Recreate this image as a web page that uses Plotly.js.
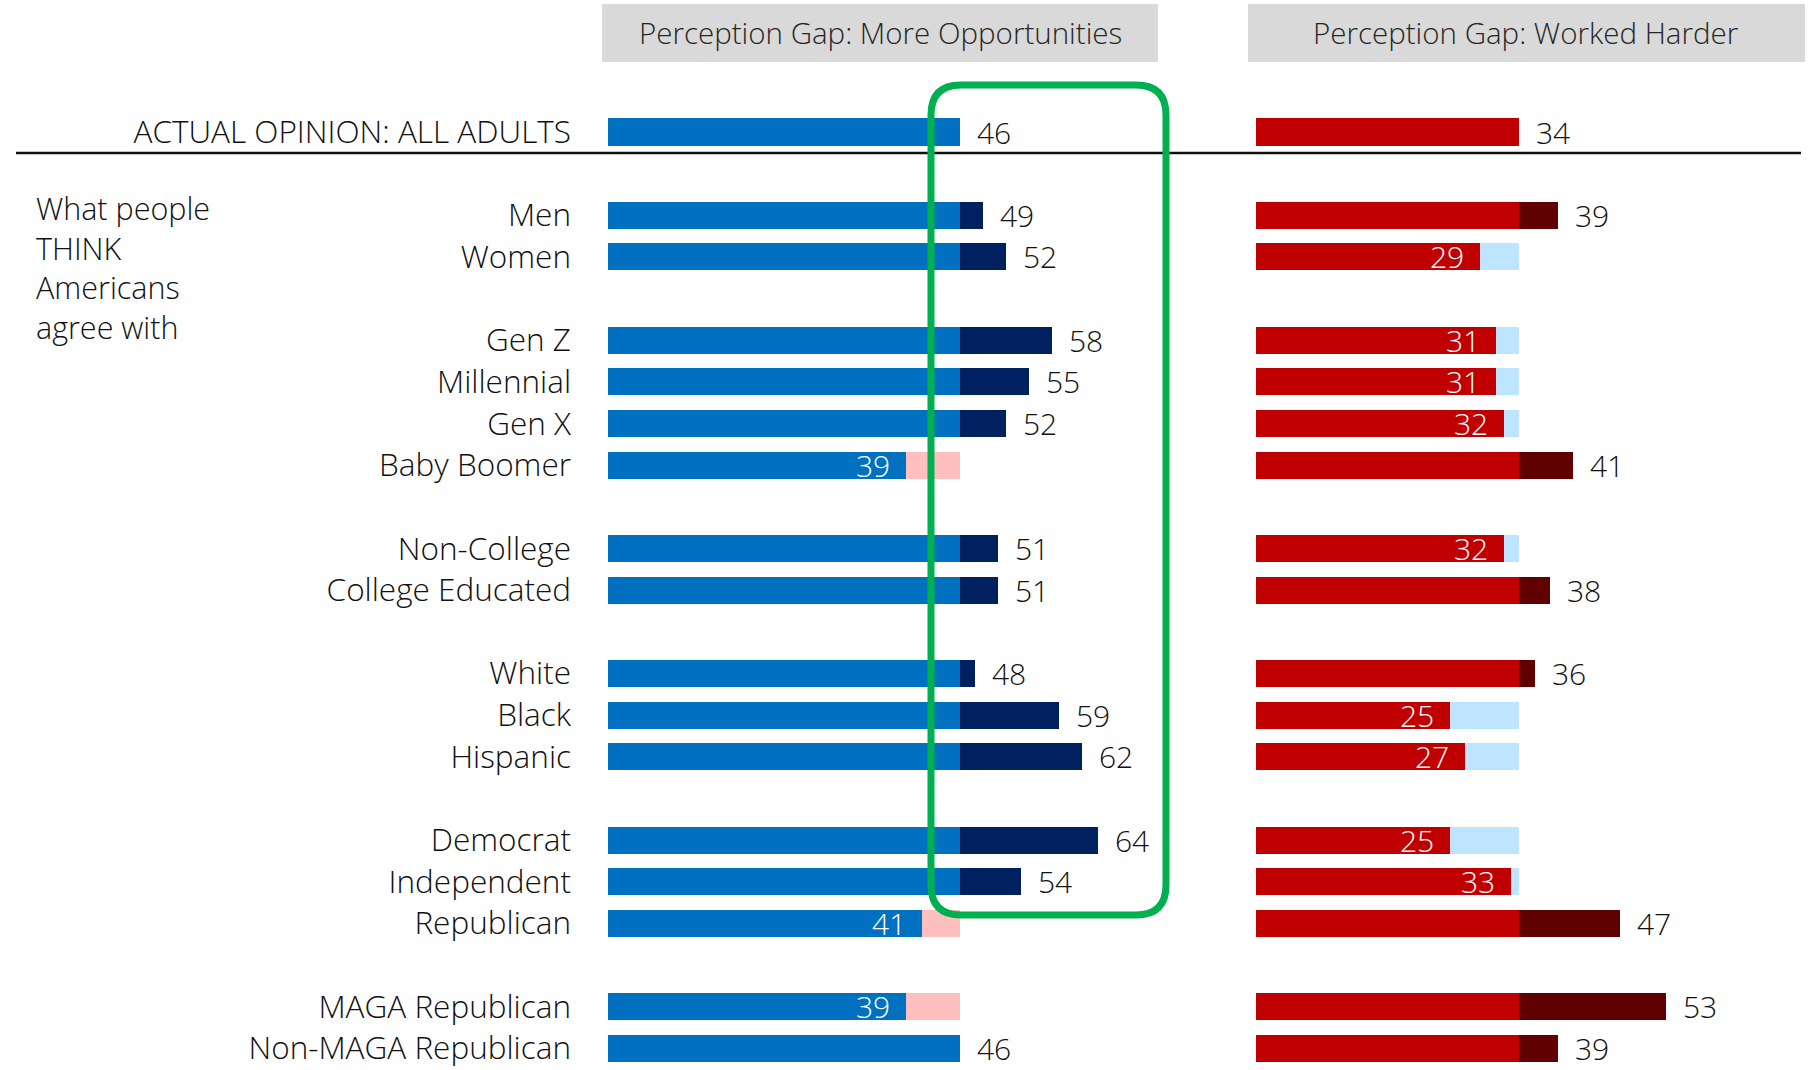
<!DOCTYPE html>
<html>
<head>
<meta charset="utf-8">
<script src="https://cdn.plot.ly/plotly-3.0.1.min.js"></script>
<style>html,body{margin:0;padding:0;background:#fff;}#chart{width:1810px;height:1070px;}</style>
</head>
<body>
<div id="chart"></div>
<script>
// ---- data ----
const actualLabel = "ACTUAL OPINION: ALL ADULTS";
const categories = ["Men","Women","Gen Z","Millennial","Gen X","Baby Boomer","Non-College","College Educated","White","Black","Hispanic","Democrat","Independent","Republican","MAGA Republican","Non-MAGA Republican"];
const groupSizes = [2,4,2,3,3,2];
const actualOpportunities = 46;
const actualHarder = 34;
const perceivedOpportunities = [49,52,58,55,52,39,51,51,48,59,62,64,54,41,39,46];
const perceivedHarder = [39,29,31,31,32,41,32,38,36,25,27,25,33,47,53,39];
const panelTitles = ["Perception Gap: More Opportunities","Perception Gap: Worked Harder"];
const sideNoteLines = ["What people","THINK","Americans","agree with"];

// ---- helpers ----
const W = 1810, H = 1070;
const px = x => x / W;
const py = y => 1 - y / H;
const FONT = "'Open Sans', Lato, sans-serif";
const WEIGHT = 300;
const TXT = "#111111";

// category order with blank spacer rows
const order = [actualLabel];
let k = 0, sp = 1;
groupSizes.forEach(n => {
  order.push(" ".repeat(sp++));
  for (let i = 0; i < n; i++) order.push(categories[k++]);
});

function panel(vals, actual, xa, colBase, colOver, colUnder) {
  const ys = [actualLabel].concat(categories);
  const vs = [actual].concat(vals);
  const base = vs.map(v => Math.min(v, actual));
  const over = vs.map(v => Math.max(v - actual, 0));
  const under = vs.map(v => Math.max(actual - v, 0));
  const common = {type: "bar", orientation: "h", y: ys, xaxis: xa, yaxis: "y", width: 0.65,
                  hoverinfo: "skip", showlegend: false};
  const traces = [
    Object.assign({}, common, {x: base, marker: {color: colBase, line: {width: 0}}}),
    Object.assign({}, common, {x: over, marker: {color: colOver, line: {width: 0}}}),
    Object.assign({}, common, {x: under, marker: {color: colUnder, line: {width: 0}}})
  ];
  const ann = vs.map((v, i) => {
    const outside = v >= actual;
    return {
      xref: xa, yref: "y", x: v, y: ys[i], text: String(v), showarrow: false,
      xanchor: outside ? "left" : "right", yanchor: "middle",
      xshift: outside ? 15 : -14, yshift: 0,
      font: {family: FONT, weight: WEIGHT, size: 30, color: outside ? TXT : "#ffffff"}
    };
  });
  return {traces, ann};
}

const L = panel(perceivedOpportunities, actualOpportunities, "x", "#0070C0", "#002060", "#FFBFBF");
const R = panel(perceivedHarder, actualHarder, "x2", "#C00000", "#600000", "#BFE4FF");

// green rounded rectangle
const gL = 931, gR = 1166, gT = 85, gB = 915, r = 30;
const P = (x, y) => px(x).toFixed(5) + "," + py(y).toFixed(5);
const greenPath = "M" + P(gL, gT + r) + " Q" + P(gL, gT) + " " + P(gL + r, gT) +
  " L" + P(gR - r, gT) + " Q" + P(gR, gT) + " " + P(gR, gT + r) +
  " L" + P(gR, gB - r) + " Q" + P(gR, gB) + " " + P(gR - r, gB) +
  " L" + P(gL + r, gB) + " Q" + P(gL, gB) + " " + P(gL, gB - r) + " Z";

const shapes = [
  {type: "rect", xref: "paper", yref: "paper", x0: px(602), x1: px(1158), y0: py(62), y1: py(4),
   fillcolor: "#D9D9D9", line: {width: 0}, layer: "below"},
  {type: "rect", xref: "paper", yref: "paper", x0: px(1248), x1: px(1805), y0: py(62), y1: py(4),
   fillcolor: "#D9D9D9", line: {width: 0}, layer: "below"},
  {type: "line", xref: "paper", yref: "paper", x0: px(16), x1: px(1801), y0: py(153), y1: py(153),
   line: {color: "#111111", width: 2.5}, layer: "above"},
  {type: "path", xref: "paper", yref: "paper", path: greenPath,
   line: {color: "#00B050", width: 7}, fillcolor: "rgba(0,0,0,0)", layer: "above"}
];

const headerAnn = [
  {xref: "paper", yref: "paper", x: px(880), y: py(32), text: panelTitles[0], showarrow: false,
   xanchor: "center", yanchor: "middle", font: {family: FONT, weight: WEIGHT, size: 29.5, color: "#262626"}},
  {xref: "paper", yref: "paper", x: px(1526), y: py(32), text: panelTitles[1], showarrow: false,
   xanchor: "center", yanchor: "middle", font: {family: FONT, weight: WEIGHT, size: 29.5, color: "#262626"}},
  {xref: "paper", yref: "paper", x: px(34), y: py(267), text: sideNoteLines.join("<br>"), showarrow: false,
   xanchor: "left", yanchor: "middle", align: "left",
   font: {family: FONT, weight: WEIGHT, size: 30.5, color: TXT}}
];

const row0 = 132, slot = 41.65;
const layout = {
  width: W, height: H,
  margin: {l: 0, r: 0, t: 0, b: 0, pad: 0},
  paper_bgcolor: "#ffffff", plot_bgcolor: "rgba(0,0,0,0)",
  barmode: "stack", bargap: 0,
  showlegend: false,
  font: {family: FONT, weight: WEIGHT, color: TXT},
  xaxis: {domain: [px(608), px(1200)], range: [0, 592 / 7.65], visible: false, fixedrange: true},
  xaxis2: {domain: [px(1256), 1], range: [0, 554 / 7.74], visible: false, anchor: "y", fixedrange: true},
  yaxis: {type: "category", categoryorder: "array", categoryarray: order,
          range: [(H - row0) / slot, -row0 / slot], domain: [0, 1], anchor: "x",
          showgrid: false, zeroline: false, showline: false, ticks: "",
          ticklabelstandoff: 36, tickfont: {family: FONT, weight: WEIGHT, size: 31.5, color: TXT}, fixedrange: true},
  shapes: shapes,
  annotations: headerAnn.concat(L.ann, R.ann)
};

Plotly.newPlot("chart", L.traces.concat(R.traces), layout, {displayModeBar: false, staticPlot: true});
</script>
</body>
</html>
